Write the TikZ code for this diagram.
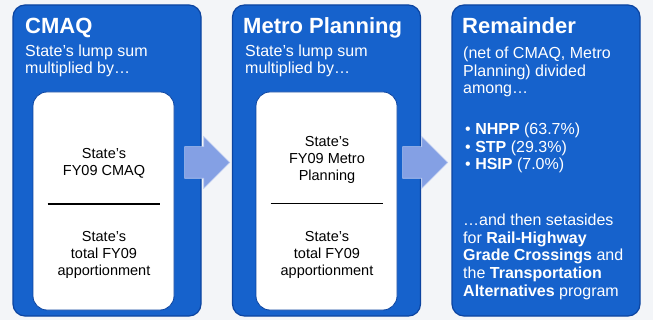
\documentclass[tikz,border=0pt]{standalone}
\usepackage{fontspec}
\setmainfont{Liberation Sans}
\usetikzlibrary{shapes.arrows, calc}

\definecolor{boxblue}{RGB}{22,98,204}
\definecolor{edgeblue}{RGB}{12,68,160}
\definecolor{arrowblue}{RGB}{132,160,228}
\definecolor{paper}{RGB}{243,245,248}

\tikzset{
  panel/.style={draw=edgeblue, line width=1.2pt, fill=boxblue, rounded corners=12pt,
    minimum width=188pt, minimum height=311pt, inner sep=0pt},
  ratio/.style={draw=edgeblue, line width=0.8pt, fill=white, rounded corners=14pt,
    minimum width=141pt, minimum height=218pt, inner sep=0pt},
  flow/.style={single arrow, anchor=tip, fill=arrowblue, draw=arrowblue!60!white, line width=0.6pt,
    single arrow head extend=10pt, single arrow head indent=0pt,
    minimum height=45pt, minimum width=51pt, inner xsep=0pt, inner ysep=15.5pt,
    text height=0pt, text depth=0pt},
  heading/.style={anchor=base west, inner sep=0pt, text=white,
    font=\fontsize{22}{26}\selectfont\bfseries},
  % multi-line nodes sit on the baseline of their last line
  lead/.style={anchor=base west, inner sep=0pt, text=white, align=left,
    font=\fontsize{16}{17.6}\selectfont},
  share/.style={anchor=base, inner sep=0pt, align=center,
    font=\fontsize{14.5}{17}\selectfont},
}

\begin{document}
\begin{tikzpicture}[x=1pt, y=-1pt]
  % paper
  \fill[paper] (0,0) rectangle (653,320);
  \useasboundingbox (0,0) rectangle (653,320);

  % the three panels
  \node[panel] (cmaq) at (107,160.5) {};
  \node[panel] (metro) at (326.5,160.5) {};
  \node[panel] (rest) at (546,160.5) {};

  % fraction boxes
  \node[ratio] (cmaq-f) at (103.5,201) {};
  \node[ratio] (metro-f) at (326.5,201) {};

  % arrows between the panels
  \node[flow] (a1) at (230,162.5) {};
  \node[flow] (a2) at (448,162.5) {};

  % CMAQ
  \node[heading] (cmaq-h) at (25,34) {CMAQ};
  \node[lead] (cmaq-l) at (25,74) {State’s lump sum\\multiplied by…};
  \node[share] (cmaq-n) at (104,176) {State’s\\FY09 CMAQ};
  \draw[line width=1.3pt] ($(cmaq-f.center)+(-56,3)$) -- ($(cmaq-f.center)+(56,3)$);
  \node[share] (cmaq-d) at (104,276) {State’s\\total FY09\\apportionment};

  % Metro Planning
  \node[heading] (metro-h) at (243,34) {Metro Planning};
  \node[lead] (metro-l) at (245,74) {State’s lump sum\\multiplied by…};
  \node[share] (metro-n) at (327,181) {State’s\\FY09 Metro\\Planning};
  \draw[line width=1.3pt] ($(metro-f.center)+(-56,2.5)$) -- ($(metro-f.center)+(56,2.5)$);
  \node[share] (metro-d) at (327,276) {State’s\\total FY09\\apportionment};

  % Remainder
  \node[heading] (rest-h) at (462,34) {Remainder};
  \node[lead] (rest-a) at (463,94) {(net of CMAQ, Metro\\Planning) divided\\among…};
  \node[lead] (rest-b) at (465,170) {• \textbf{NHPP} (63.7\%)\\• \textbf{STP} (29.3\%)\\• \textbf{HSIP} (7.0\%)};
  \node[lead] (rest-c) at (463,296) {…and then setasides\\for \textbf{Rail-Highway}\\\textbf{Grade Crossings} and\\the \textbf{Transportation}\\\textbf{Alternatives} program};
\end{tikzpicture}
\end{document}
